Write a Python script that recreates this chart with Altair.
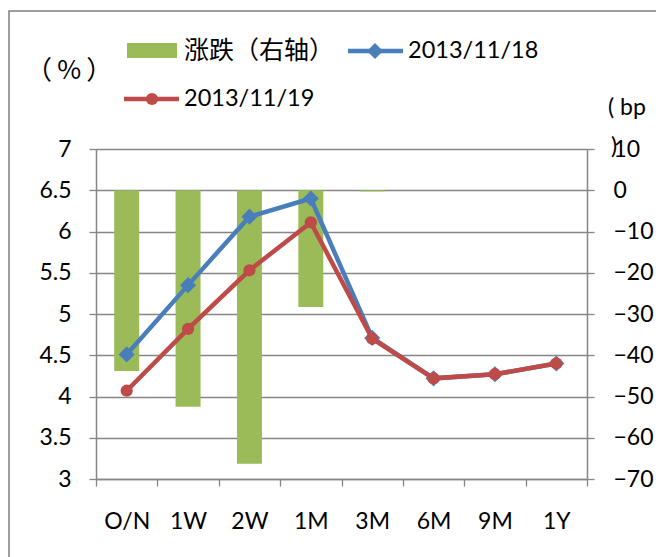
import altair as alt
import pandas as pd

tenors = ["O/N", "1W", "2W", "1M", "3M", "6M", "9M", "1Y"]
rate_1118 = [4.51, 5.35, 6.18, 6.40, 4.71, 4.22, 4.27, 4.40]
rate_1119 = [4.07, 4.82, 5.53, 6.11, 4.70, 4.22, 4.27, 4.40]
change_bp = [-43.8, -52.5, -66.3, -28.3, -0.3, 0, 0, 0]

left_ticks = [3, 3.5, 4, 4.5, 5, 5.5, 6, 6.5, 7]
right_ticks = [-70, -60, -50, -40, -30, -20, -10, 0, 10]

legend_bar = "涨跌（右轴）"
legend_a = "2013/11/18"
legend_b = "2013/11/19"

FONT = "Lato, 'Noto Sans CJK SC', sans-serif"
CJK = "'Noto Sans CJK SC', Lato, sans-serif"
GREEN = "#9bbb59"
BLUE = "#4a7ebb"
RED = "#be4b48"
GRAY = "#868686"

df = pd.DataFrame({"tenor": tenors, "a": rate_1118, "b": rate_1119, "chg": change_bp})
one = pd.DataFrame({"k": [0]})

x_enc = alt.X(
    "tenor:N",
    sort=tenors,
    scale=alt.Scale(paddingInner=0, paddingOuter=0),
    axis=alt.Axis(
        title=None, labelAngle=0, tickBand="extent", labelFontSize=23, labelFont=FONT,
        labelColor="black", labelPadding=24, tickSize=7, tickColor=GRAY, tickWidth=1.3,
        domainColor=GRAY, domainWidth=1.5, grid=False,
    ),
)

bars = alt.Chart(df).mark_bar(size=25, color=GREEN).encode(
    x=x_enc,
    y=alt.Y(
        "chg:Q",
        scale=alt.Scale(domain=[-70, 10], nice=False),
        axis=alt.Axis(
            orient="right", title=None, values=right_ticks, format="d", grid=False,
            labelFontSize=23, labelFont=FONT, labelColor="black", labelPadding=19,
            tickSize=7, tickColor=GRAY, tickWidth=1.3, domainColor=GRAY, domainWidth=1.5,
        ),
    ),
)

y_left = alt.Y(
    "val:Q",
    scale=alt.Scale(domain=[3, 7], nice=False, zero=False),
    axis=alt.Axis(
        orient="left", title=None, values=left_ticks, format="~g", grid=True,
        gridColor=GRAY, gridWidth=1.3, labelFontSize=23, labelFont=FONT, labelColor="black",
        labelPadding=18, tickSize=7, tickColor=GRAY, tickWidth=1.3, domainColor=GRAY,
        domainWidth=1.5,
    ),
)

base_a = alt.Chart(df).transform_calculate(val="datum.a")
base_b = alt.Chart(df).transform_calculate(val="datum.b")

line_a = base_a.mark_line(color=BLUE, strokeWidth=4.5).encode(x=x_enc, y=y_left)
pt_a = base_a.mark_point(shape="diamond", filled=True, size=260, color=BLUE, opacity=1).encode(x=x_enc, y=y_left)
line_b = base_b.mark_line(color=RED, strokeWidth=4.5).encode(x=x_enc, y=y_left)
pt_b = base_b.mark_point(shape="circle", filled=True, size=150, color=RED, opacity=1).encode(x=x_enc, y=y_left)

lines = alt.layer(line_a, pt_a, line_b, pt_b)

# frame
frame = alt.Chart(one).mark_rect(fill=None, stroke="#7f7f7f", strokeWidth=1.5).encode(
    x=alt.value(-87), x2=alt.value(700), y=alt.value(-138), y2=alt.value(600)
)

# manual legend
leg_rect = alt.Chart(one).mark_rect(color=GREEN).encode(
    x=alt.value(31), x2=alt.value(81), y=alt.value(-106), y2=alt.value(-91)
)
leg_t1 = alt.Chart(one).mark_text(align="left", baseline="middle", fontSize=25, font=CJK, color="black").encode(
    x=alt.value(88), y=alt.value(-98), text=alt.value(legend_bar)
)
leg_la = alt.Chart(one).mark_rule(color=BLUE, strokeWidth=4.5).encode(
    x=alt.value(252), x2=alt.value(307), y=alt.value(-98)
)
leg_pa = alt.Chart(one).mark_point(shape="diamond", filled=True, size=260, color=BLUE, opacity=1).encode(
    x=alt.value(279), y=alt.value(-98)
)
leg_ta = alt.Chart(one).mark_text(align="left", baseline="middle", fontSize=23.5, font=FONT, color="black").encode(
    x=alt.value(312), y=alt.value(-98), text=alt.value(legend_a)
)
leg_lb = alt.Chart(one).mark_rule(color=RED, strokeWidth=4.5).encode(
    x=alt.value(28), x2=alt.value(83), y=alt.value(-50)
)
leg_pb = alt.Chart(one).mark_point(shape="circle", filled=True, size=150, color=RED, opacity=1).encode(
    x=alt.value(56), y=alt.value(-50)
)
leg_tb = alt.Chart(one).mark_text(align="left", baseline="middle", fontSize=23.5, font=FONT, color="black").encode(
    x=alt.value(88), y=alt.value(-50), text=alt.value(legend_b)
)
t_pct = alt.Chart(one).mark_text(align="left", baseline="middle", fontSize=26, font=CJK, color="black").encode(
    x=alt.value(-70), y=alt.value(-78), text=alt.value("（\u2009%\u2009）")
)
t_bp1 = alt.Chart(one).mark_text(align="left", baseline="middle", fontSize=23, font=FONT, color="black").encode(
    x=alt.value(512), y=alt.value(-41), text=alt.value("( bp")
)
t_bp2 = alt.Chart(one).mark_text(align="left", baseline="middle", fontSize=23, font=FONT, color="black").encode(
    x=alt.value(515), y=alt.value(-2), text=alt.value(")")
)

chart = alt.layer(
    frame, bars, lines, leg_rect, leg_t1, leg_la, leg_pa, leg_ta, leg_lb, leg_pb, leg_tb, t_pct, t_bp1, t_bp2
).resolve_scale(y="independent").properties(
    width=491, height=330,
    autosize=alt.AutoSizeParams(type="none"),
    padding={"left": 88, "top": 141, "right": 69, "bottom": 78},
    background="white",
).configure_view(stroke=None)

chart.save("out.html", embed_options={"renderer": "svg", "actions": False})
